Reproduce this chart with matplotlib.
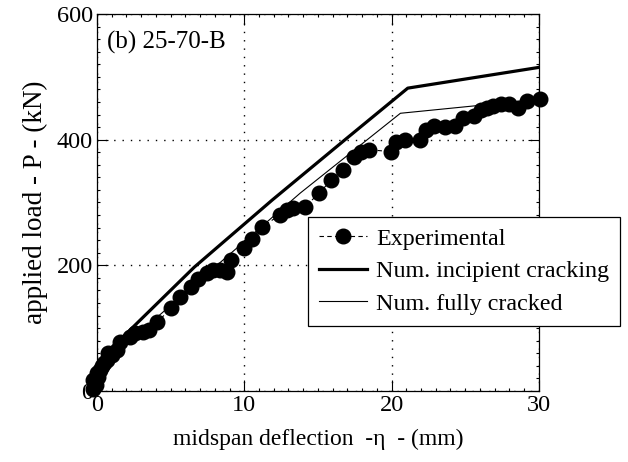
import numpy as np
import matplotlib
matplotlib.use('Agg')
import matplotlib.pyplot as plt
from matplotlib.ticker import MultipleLocator

plt.rcParams['font.family'] = ['Liberation Serif', 'DejaVu Serif']
plt.rcParams['mathtext.fontset'] = 'stix'

# experimental load-deflection points (mm, kN)
exp_x = [-0.3, -0.25, -0.1, 0.0, 0.1, 0.32, 0.2, 0.5, 0.66, 0.77, 1.0, 1.34, 1.56,
         2.24, 2.58, 3.14, 3.5, 4.1, 5.05, 5.63, 6.4, 6.85, 7.45, 7.9, 8.35, 8.8,
         9.1, 9.95, 10.5, 11.18, 12.42, 12.88, 13.3, 14.1, 15.1, 15.9, 16.7, 17.45,
         17.95, 18.45, 19.95, 20.3, 20.9, 21.9, 22.35, 22.9, 23.6, 24.3, 24.87,
         25.6, 26.1, 26.5, 26.9, 27.4, 28.0, 28.6, 29.2, 30.05]
exp_y = [3, 17, 10, 29, 22, 39, 33, 45, 49, 60, 58, 65, 78,
         86, 92, 94, 97, 110, 132, 150, 166, 179, 187, 193, 193, 190,
         208, 227, 242, 261, 280, 288, 291, 293, 315, 336, 352, 372,
         380, 384, 381, 397, 400, 400, 415, 422, 420, 421, 435,
         438, 447, 450, 453, 456, 456, 450, 462, 464]

# numerical: incipient cracking
inc_x = [0, 1.5, 6.6, 11.9, 17.0, 21.1, 30]
inc_y = [0, 80, 197, 304, 403, 482, 515]

# numerical: fully cracked
full_x = [0, 1.5, 13.8, 20.6, 30]
full_y = [0, 65, 315, 442, 464]

fig = plt.figure(figsize=(6.28, 4.62), dpi=100)
ax = fig.add_axes([0.1545, 0.1537, 0.7035, 0.816])

ax.plot(exp_x, exp_y, 'k--', lw=0.8, marker='o', ms=10.5, mfc='black', mec='black',
        dashes=(4, 3), clip_on=False, zorder=3, label='Experimental')
ax.plot(inc_x, inc_y, 'k-', lw=2.3, zorder=4, label='Num. incipient cracking')
ax.plot(full_x, full_y, 'k-', lw=0.8, zorder=4, label='Num. fully cracked')

ax.set_xlim(0, 30)
ax.set_ylim(0, 600)
ax.xaxis.set_major_locator(MultipleLocator(10))
ax.yaxis.set_major_locator(MultipleLocator(200))
ax.xaxis.set_minor_locator(MultipleLocator(1))
ax.yaxis.set_minor_locator(MultipleLocator(20))
ax.tick_params(which='both', direction='in', top=True, right=True, labelsize=17.5, width=0.8)
ax.tick_params(which='major', length=8, pad=3)
ax.tick_params(which='minor', length=2.5)
ax.grid(True, which='major', color='black', linestyle=(0, (1, 5)), lw=1)
for s in ax.spines.values():
    s.set_linewidth(0.9)

ax.set_xlabel('midspan deflection  -η  - (mm)', fontsize=17, labelpad=9)
ax.set_ylabel('applied load - P - (kN)', fontsize=19.5, labelpad=6)
ax.text(0.022, 0.925, '(b) 25-70-B', transform=ax.transAxes, fontsize=18, va='center')

leg = ax.legend(loc='upper left', bbox_to_anchor=(0.477, 0.4615), borderaxespad=0,
                fontsize=17.3, fancybox=False, framealpha=1, edgecolor='black',
                handlelength=2.0, labelspacing=0.45, borderpad=0.45, handletextpad=0.4)
leg.get_frame().set_linewidth(0.9)
leg.set_zorder(10)

fig.savefig('out.png', dpi=100)
